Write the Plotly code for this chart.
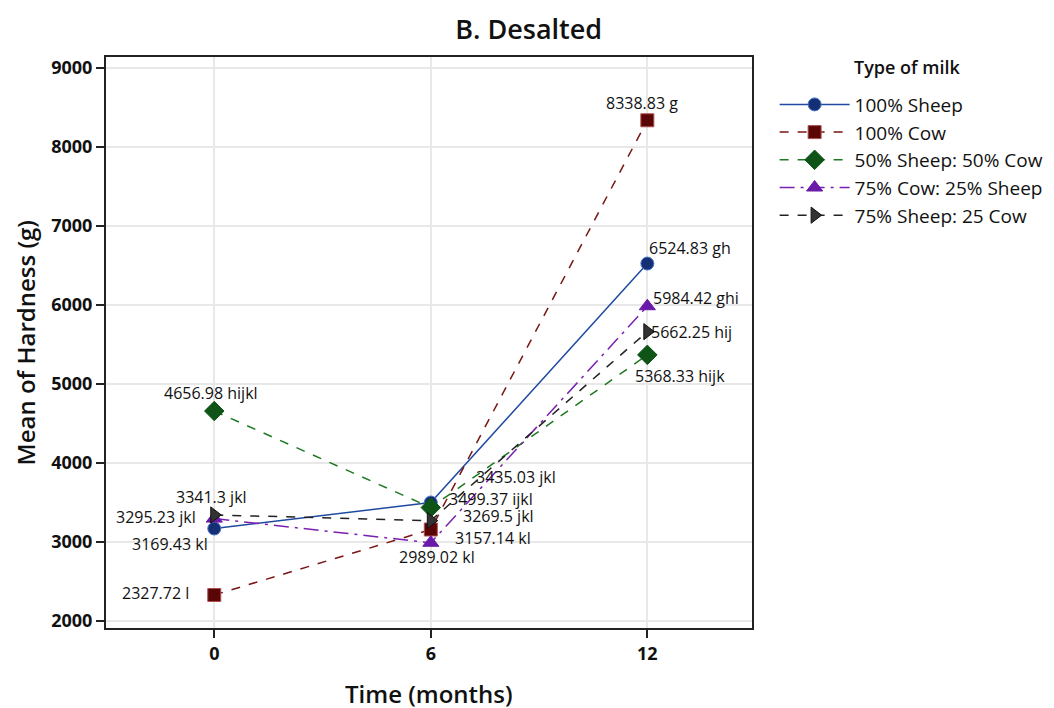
import plotly.graph_objects as go

time_months = [0, 6, 12]
series_names = ["100% Sheep", "100% Cow", "50% Sheep: 50% Cow", "75% Cow: 25% Sheep", "75% Sheep: 25 Cow"]
sheep100 = [3169.43, 3499.37, 6524.83]
cow100 = [2327.72, 3157.14, 8338.83]
sheep50_cow50 = [4656.98, 3435.03, 5368.33]
cow75_sheep25 = [3295.23, 2989.02, 5984.42]
sheep75_cow25 = [3341.3, 3269.5, 5662.25]
letters_sheep100 = ["kl", "ijkl", "gh"]
letters_cow100 = ["l", "kl", "g"]
letters_sheep50 = ["hijkl", "jkl", "hijk"]
letters_cow75 = ["jkl", "kl", "ghi"]
letters_sheep75 = ["jkl", "jkl", "hij"]
y_ticks = [2000, 3000, 4000, 5000, 6000, 7000, 8000, 9000]
x_ticks = [0, 6, 12]

values = [sheep100, cow100, sheep50_cow50, cow75_sheep25, sheep75_cow25]
letters = [letters_sheep100, letters_cow100, letters_sheep50, letters_cow75, letters_sheep75]

styles = [
    dict(line=dict(color="#1f4aa0", width=1.5, dash="solid"),
         marker=dict(symbol="circle", size=13, color="#142f73", line=dict(color="#4a78c8", width=1))),
    dict(line=dict(color="#7a1515", width=1.5, dash="dash"),
         marker=dict(symbol="square", size=13, color="#5a0606", line=dict(color="#b05050", width=1))),
    dict(line=dict(color="#1e7a22", width=1.5, dash="dash"),
         marker=dict(symbol="diamond", size=15, color="#0d5416", line=dict(color="#0d5416", width=1))),
    dict(line=dict(color="#7a1fb0", width=1.5, dash="longdashdot"),
         marker=dict(symbol="triangle-up", size=14, color="#6a1aa8", line=dict(color="#6a1aa8", width=1))),
    dict(line=dict(color="#222222", width=1.5, dash="dash"),
         marker=dict(symbol="triangle-right", size=14, color="#333333", line=dict(color="#111111", width=1))),
]

# label placement (xanchor, yanchor, xshift, yshift) per series / point
placements = [
    [("right", "middle", -4, -15), ("left", "middle", 16, 3), ("left", "middle", 0, 16)],
    [("right", "middle", -23, 2), ("left", "middle", 22, -8), ("center", "middle", -5, 17)],
    [("center", "middle", -3, 18), ("left", "middle", 43, 31), ("left", "middle", -14, -21)],
    [("right", "middle", -16, 2), ("center", "middle", 6, -14), ("left", "middle", 4, 8)],
    [("center", "middle", -3, 18), ("left", "middle", 30, 5), ("left", "middle", 2, 0)],
]

fig = go.Figure()
for name, vals, st in zip(series_names, values, styles):
    fig.add_trace(go.Scatter(x=time_months, y=vals, mode="lines+markers", name=name,
                             line=st["line"], marker=st["marker"]))

for vals, lets, plc in zip(values, letters, placements):
    for xv, yv, lt, (xa, ya, xs, ys) in zip(time_months, vals, lets, plc):
        txt = f"{yv:g} {lt}"
        fig.add_annotation(x=xv, y=yv, text=txt, showarrow=False, xanchor=xa, yanchor=ya,
                           xshift=xs, yshift=ys,
                           font=dict(family="Open Sans", size=16, color="#111111"))

# legend heading aligned with the entry texts
fig.add_annotation(x=1.155, y=0.983, xref="paper", yref="paper", xanchor="left", yanchor="middle",
                   text="Type of milk", showarrow=False,
                   font=dict(family="Open Sans", size=18, color="#111111", weight=600))
# axis titles
fig.add_annotation(x=-0.124, y=0.5, xref="paper", yref="paper", xanchor="center", yanchor="middle",
                   text="Mean of Hardness (g)", textangle=-90, showarrow=False,
                   font=dict(family="Open Sans", size=24, color="#111111", weight=600))
fig.add_annotation(x=0.5, y=-0.114, xref="paper", yref="paper", xanchor="center", yanchor="middle",
                   text="Time (months)", showarrow=False,
                   font=dict(family="Open Sans", size=24, color="#111111", weight=600))

fig.update_layout(
    width=1054, height=708,
    paper_bgcolor="white", plot_bgcolor="white",
    margin=dict(l=98, r=310, t=49, b=88),
    font=dict(family="Open Sans", color="#111111"),
    title=dict(text="B. Desalted", x=0.494, xanchor="center", y=0.970, yanchor="middle",
               font=dict(size=27, family="Open Sans", color="#111111", weight=600)),
    legend=dict(x=1.035, y=0.95, xanchor="left", yanchor="top",
                font=dict(size=19, color="#111111"), itemwidth=70),
    showlegend=True,
)
fig.update_xaxes(range=[-3.0, 14.9], tickvals=x_ticks, ticks="outside", ticklen=8, tickwidth=1.5,
                 tickcolor="#222", showline=True, linecolor="#222", linewidth=2, mirror=True,
                 showgrid=True, gridcolor="#e8e8e8", gridwidth=2, zeroline=False,
                 tickfont=dict(size=18, family="Open Sans", color="#111", weight="bold"))
fig.update_yaxes(range=[1910, 9140], tickvals=y_ticks, ticks="outside", ticklen=8, tickwidth=1.5,
                 tickcolor="#222", showline=True, linecolor="#222", linewidth=2, mirror=True,
                 showgrid=True, gridcolor="#e8e8e8", gridwidth=2, zeroline=False,
                 tickfont=dict(size=18, family="Open Sans", color="#111", weight="bold"))

fig.write_html("out.html")
